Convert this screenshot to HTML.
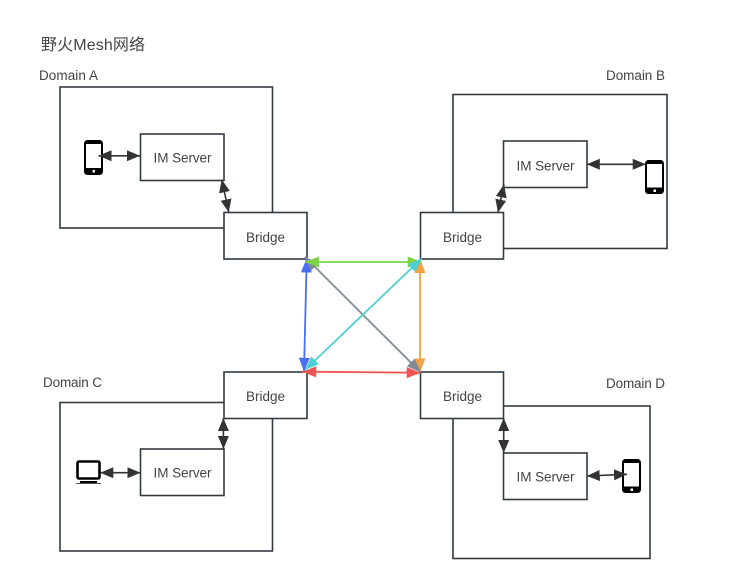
<!DOCTYPE html>
<html>
<head>
<meta charset="utf-8">
<style>
html,body{margin:0;padding:0;background:#fff;width:731px;height:583px;overflow:hidden}
svg{display:block}
text{font-family:"Liberation Sans","Noto Sans CJK SC",sans-serif;fill:#444;font-size:13.5px}
.b{fill:none;stroke:#323a42;stroke-width:1.6}
.w{fill:#fff;stroke:#323a42;stroke-width:1.6}
.d{stroke:#333;stroke-width:1.6;fill:none;marker-start:url(#mk);marker-end:url(#mk)}
</style>
</head>
<body>
<svg width="731" height="583" viewBox="0 0 731 583" xmlns="http://www.w3.org/2000/svg">
<defs>
<marker id="mk" markerUnits="userSpaceOnUse" markerWidth="14" markerHeight="12" refX="13" refY="5.5" orient="auto-start-reverse"><path d="M0,0L13,5.5L0,11z" fill="#333"/></marker>
<marker id="mg" markerUnits="userSpaceOnUse" markerWidth="15" markerHeight="12" refX="14" refY="5.5" orient="auto-start-reverse"><path d="M0,0L14,5.5L0,11z" fill="#7ed348"/></marker>
<marker id="mb" markerUnits="userSpaceOnUse" markerWidth="15" markerHeight="12" refX="14" refY="5.5" orient="auto-start-reverse"><path d="M0,0L14,5.5L0,11z" fill="#4a6ff0"/></marker>
<marker id="mr" markerUnits="userSpaceOnUse" markerWidth="15" markerHeight="12" refX="14" refY="5.5" orient="auto-start-reverse"><path d="M0,0L14,5.5L0,11z" fill="#ef5350"/></marker>
<marker id="mo" markerUnits="userSpaceOnUse" markerWidth="15" markerHeight="12" refX="14" refY="5.5" orient="auto-start-reverse"><path d="M0,0L14,5.5L0,11z" fill="#f5a045"/></marker>
<marker id="mc" markerUnits="userSpaceOnUse" markerWidth="15" markerHeight="12" refX="14" refY="5.5" orient="auto-start-reverse"><path d="M0,0L14,5.5L0,11z" fill="#4fd0d0"/></marker>
<marker id="my" markerUnits="userSpaceOnUse" markerWidth="15" markerHeight="12" refX="14" refY="5.5" orient="auto-start-reverse"><path d="M0,0L14,5.5L0,11z" fill="#808b96"/></marker>
</defs>

<text x="41" y="50" style="font-size:16px" textLength="104">野火Mesh网络</text>
<text x="39" y="80" textLength="59">Domain A</text>
<text x="606" y="80" textLength="59">Domain B</text>
<text x="43" y="387" textLength="59">Domain C</text>
<text x="606" y="388" textLength="59">Domain D</text>

<rect class="b" x="60" y="87" width="212.5" height="141"/>
<rect class="b" x="453" y="94.5" width="214" height="154"/>
<rect class="b" x="60" y="402.5" width="212.5" height="148.5"/>
<rect class="b" x="453" y="406" width="197" height="152.5"/>

<rect class="w" x="140.5" y="134" width="83.5" height="46.5"/>
<rect class="w" x="503.5" y="141" width="83.5" height="46.5"/>
<rect class="w" x="140.5" y="449" width="83.5" height="46.5"/>
<rect class="w" x="503.5" y="453" width="83.5" height="46.5"/>

<rect class="w" x="224" y="212.5" width="83" height="46.5"/>
<rect class="w" x="420.5" y="212.5" width="83" height="46.5"/>
<rect class="w" x="224" y="372" width="83" height="46.5"/>
<rect class="w" x="420.5" y="372" width="83" height="46.5"/>

<text x="153.5" y="162.5" textLength="58">IM Server</text>
<text x="516.5" y="170.5" textLength="58">IM Server</text>
<text x="153.5" y="477.5" textLength="58">IM Server</text>
<text x="516.5" y="481.5" textLength="58">IM Server</text>
<text x="246" y="242" textLength="39">Bridge</text>
<text x="443" y="242" textLength="39">Bridge</text>
<text x="246" y="401" textLength="39">Bridge</text>
<text x="443" y="401" textLength="39">Bridge</text>

<!-- phones -->
<g>
<rect x="85" y="141" width="17" height="33" rx="2.5" fill="#fff" stroke="#000" stroke-width="2"/>
<rect x="85" y="168" width="17" height="6" fill="#000"/>
<rect x="85" y="141" width="17" height="3" fill="#000"/>
<rect x="92.5" y="170" width="2.5" height="2.5" fill="#fff"/>
</g>
<g>
<rect x="646" y="161" width="17" height="32" rx="2.5" fill="#fff" stroke="#000" stroke-width="2"/>
<rect x="646" y="187.5" width="17" height="6" fill="#000"/>
<rect x="646" y="161" width="17" height="3" fill="#000"/>
<rect x="653.5" y="189.5" width="2.5" height="2.5" fill="#fff"/>
</g>
<g>
<rect x="623" y="460" width="17" height="32" rx="2.5" fill="#fff" stroke="#000" stroke-width="2"/>
<rect x="623" y="486.5" width="17" height="6" fill="#000"/>
<rect x="623" y="460" width="17" height="3" fill="#000"/>
<rect x="630.5" y="488.5" width="2.5" height="2.5" fill="#fff"/>
</g>
<!-- monitor -->
<rect x="77.5" y="461.5" width="22" height="17" rx="1.5" fill="#fff" stroke="#000" stroke-width="2.6"/>
<rect x="80" y="481" width="17" height="2" fill="#000"/>
<rect x="76" y="483" width="25" height="1" fill="#555"/>

<!-- dark connectors -->
<line class="d" x1="98.5" y1="155.8" x2="140" y2="155.8"/>
<line class="d" x1="221.7" y1="179.5" x2="228.8" y2="212.3"/>
<line class="d" x1="223.4" y1="418" x2="223.4" y2="449"/>
<line class="d" x1="100.3" y1="472.7" x2="140.5" y2="472.7"/>
<line class="d" x1="504" y1="184.5" x2="498" y2="212.5"/>
<line class="d" x1="586.8" y1="164.3" x2="645.7" y2="164.3"/>
<line class="d" x1="503.7" y1="418" x2="503.7" y2="453"/>
<line class="d" x1="586.8" y1="476" x2="627" y2="474.3"/>

<!-- mesh connectors -->
<g fill="none" stroke-width="1.8">
<line stroke="#4a6ff0" x1="306.7" y1="258.5" x2="304" y2="371.7" marker-start="url(#mb)" marker-end="url(#mb)"/>
<line stroke="#f5a045" x1="420" y1="259" x2="420" y2="372.3" marker-start="url(#mo)" marker-end="url(#mo)"/>
<line stroke="#ef5350" x1="302.3" y1="371.7" x2="420.7" y2="372.7" marker-start="url(#mr)" marker-end="url(#mr)"/>
<line stroke="#808b96" x1="305" y1="257" x2="420.7" y2="372.3" marker-start="url(#my)" marker-end="url(#my)"/>
<line stroke="#7ed348" x1="305" y1="262" x2="421.7" y2="262" marker-start="url(#mg)" marker-end="url(#mg)"/>
<line stroke="#4fd0d0" x1="421.7" y1="258.5" x2="305" y2="370" marker-start="url(#mc)" marker-end="url(#mc)"/>
</g>
</svg>
</body>
</html>
